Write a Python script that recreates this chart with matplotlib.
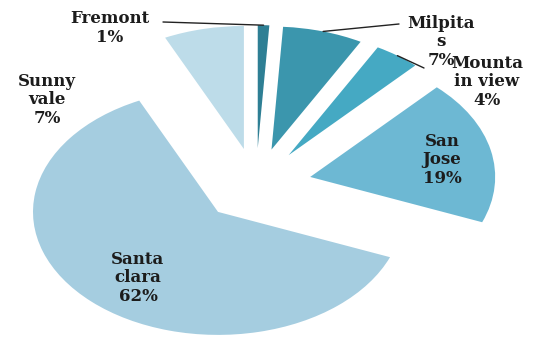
import matplotlib.pyplot as plt
import numpy as np

cities = ['Fremont', 'Milpitas', 'Mountain view', 'San Jose', 'Santa clara', 'Sunnyvale']
shares = [1, 7, 4, 19, 62, 7]
label_text = ['Fremont\n1%', 'Milpita\ns\n7%', 'Mounta\nin view\n4%',
              'San\nJose\n19%', 'Santa\nclara\n62%', 'Sunny\nvale\n7%']
colors = ['#2e7f94', '#3b96ad', '#45a9c3', '#6db8d3', '#a5cde0', '#bddce9']

W, H = 539, 341
fig = plt.figure(figsize=(W / 100, H / 100), dpi=100)
ax = fig.add_axes([0, 0, 1, 1])

wedges, _ = ax.pie(shares, colors=colors, startangle=90, counterclock=False,
                   explode=[0.3] * len(shares), wedgeprops=dict(linewidth=0))

# the original chart is stretched sideways, so drop the equal aspect
ax.set_aspect('auto')
cx, cy, rx, ry = 256, 185, 185, 123
ax.set_xlim(-cx / rx, (W - cx) / rx)
ax.set_ylim(-(H - cy) / ry, cy / ry)
ax.axis('off')


def px(x, y):
    return (x - cx) / rx, (cy - y) / ry


# label centres in pixels (x, y of the middle of the block)
label_pos = [(110, 28), (441, 42), (487, 82), (442, 160), (138, 278), (47, 100)]
leader = {0: (163, 22), 1: (399, 24), 2: (424, 68)}

font = dict(family='DejaVu Serif', fontweight='bold', fontsize=12,
            color='#1c1c1c', ha='center', va='center', linespacing=1.15)

for i, w in enumerate(wedges):
    lx, ly = px(*label_pos[i])
    ax.text(lx, ly, label_text[i], **font)
    if i in leader:
        mid = np.deg2rad((w.theta1 + w.theta2) / 2)
        tip = (w.center[0] + w.r * np.cos(mid), w.center[1] + w.r * np.sin(mid))
        ax.annotate('', xy=tip, xytext=px(*leader[i]),
                    arrowprops=dict(arrowstyle='-', color='#222222', lw=1.0,
                                    shrinkA=0, shrinkB=0))

fig.savefig('out.png', dpi=100)
